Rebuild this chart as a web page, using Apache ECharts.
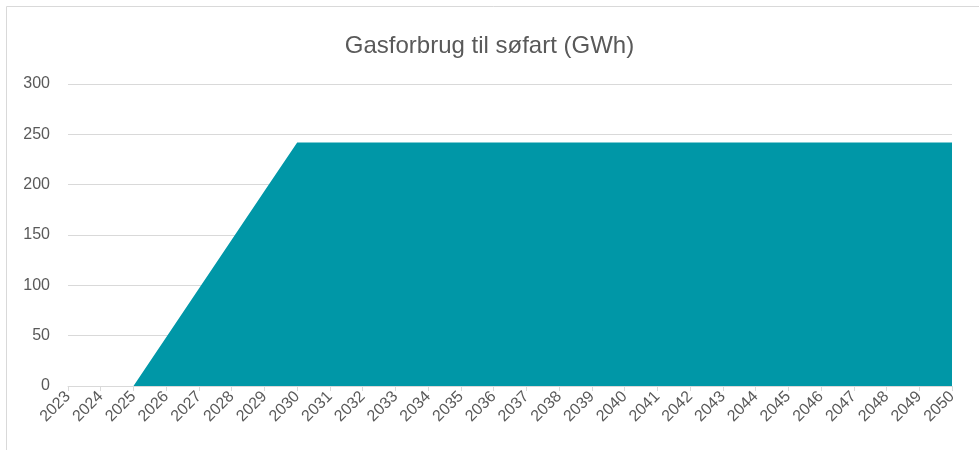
<!DOCTYPE html>
<html>
<head>
<meta charset="utf-8">
<script src="https://cdn.jsdelivr.net/npm/echarts@6/dist/echarts.min.js"></script>
<style>
  html, body { margin: 0; padding: 0; background: #fff; }
  #chart { width: 979px; height: 450px; }
</style>
</head>
<body>
<div id="chart"></div>
<script>
// Gas consumption for shipping, GWh per year
const years = []
for (let y = 2023; y <= 2050; y++) years.push(String(y))
const gasGWh = [
  0, 0, 0, 48.4, 96.8, 145.2, 193.6, 242,
  242, 242, 242, 242, 242, 242, 242, 242, 242, 242,
  242, 242, 242, 242, 242, 242, 242, 242, 242, 242
]
const yTicks = { min: 0, max: 300, interval: 50 }

const chart = echarts.init(document.getElementById('chart'), null, { renderer: 'canvas' })
const textColor = '#595959'
const font = '"Liberation Sans", Arial, sans-serif'

chart.setOption({
  animation: false,
  textStyle: { fontFamily: font },
  title: {
    text: 'Gasforbrug til søfart (GWh)',
    left: 'center',
    top: 29,
    textStyle: { color: textColor, fontSize: 24, fontWeight: 'normal', fontFamily: font },
  },
  // outer frame of the chart area
  graphic: [{
    type: 'rect',
    shape: { x: 6.5, y: 6.5, width: 1000, height: 500 },
    style: { fill: 'none', stroke: '#d9d9d9', lineWidth: 1 },
    silent: true,
  }],
  grid: { left: 68, right: 27, top: 84, bottom: 64 },
  xAxis: {
    type: 'category',
    data: years,
    boundaryGap: false,
    axisLine: { lineStyle: { color: '#d9d9d9', width: 1 } },
    axisTick: { show: true, alignWithLabel: true, length: 5, lineStyle: { color: '#d9d9d9' } },
    axisLabel: { color: textColor, fontSize: 16, rotate: 45, interval: 0, margin: 8, fontFamily: font },
    splitLine: { show: false },
  },
  yAxis: {
    type: 'value',
    min: yTicks.min,
    max: yTicks.max,
    interval: yTicks.interval,
    axisLine: { show: false },
    axisTick: { show: false },
    axisLabel: { color: textColor, fontSize: 16, margin: 18, fontFamily: font },
    splitLine: { lineStyle: { color: '#d9d9d9', width: 1 } },
  },
  series: [{
    type: 'line',
    name: 'Gasforbrug',
    data: gasGWh,
    symbol: 'none',
    lineStyle: { width: 0 },
    areaStyle: { color: '#0097a7', opacity: 1 },
    z: 1,
  }],
})
</script>
</body>
</html>
